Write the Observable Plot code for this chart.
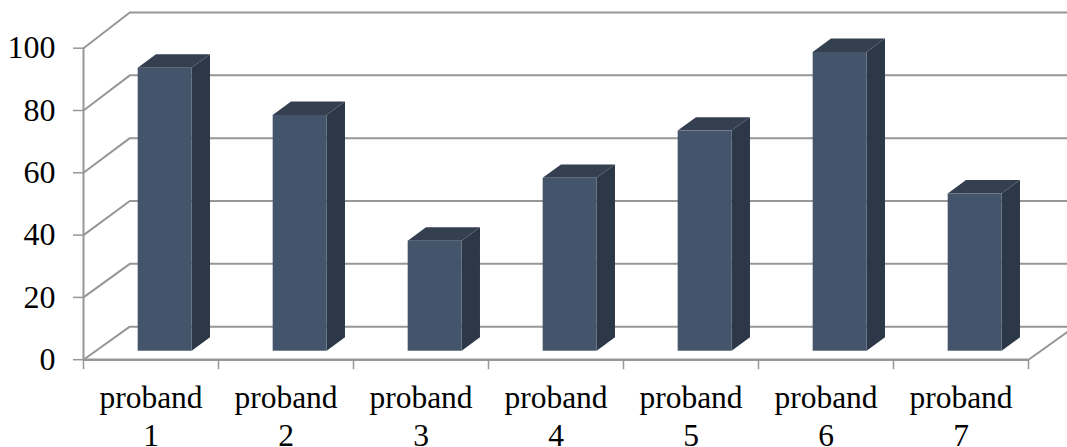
<!DOCTYPE html>
<html>
<head>
<meta charset="utf-8">
<script src="https://cdn.jsdelivr.net/npm/d3@7"></script>
<script src="https://cdn.jsdelivr.net/npm/@observablehq/plot@0.6"></script>
<style>
  html, body { margin: 0; padding: 0; background: #fff; overflow: hidden; }
  svg { display: block; font-family: "Liberation Serif", serif; }
</style>
</head>
<body>
<script>
// Survey scores per proband
const categories = ["proband\n1", "proband\n2", "proband\n3", "proband\n4", "proband\n5", "proband\n6", "proband\n7"];
const scores = [90, 75, 35, 55, 70, 95, 50];
const yTicks = [0, 20, 40, 60, 80, 100];

// Oblique projection of the chart box, in scale units
const wallShiftX = 0.343;
const wallLevel = (v) => v * 1.0086 + 10.6;
const barOffset = 0.405;
const barWidth = 0.4;
const barDepthX = 0.1356;
const barDepthY = 4.3;
const barBase = 2.73;
const barLevel = (v) => barBase + v * 1.0093;

const gridColor = "#979797";
const frontColor = "#44546a";
const sideColor = "#2c3847";
const topColor = "#343f50";
const textColor = "#000";
const n = categories.length;

// Side walls and back wall gridlines, drawn as polylines
const gridRows = yTicks.flatMap((v) => [
  {id: v, x: 0, y: v},
  {id: v, x: wallShiftX, y: wallLevel(v)},
  {id: v, x: n + wallShiftX, y: wallLevel(v)}
]);
const floorEdge = [
  {x: n, y: 0},
  {x: n + wallShiftX, y: wallLevel(0)}
];

// Each bar as three faces: front, right side and top
const bars = scores.map((v, i) => ({
  i,
  left: i + barOffset,
  right: i + barOffset + barWidth,
  low: barBase,
  high: barLevel(v)
}));
const sideFaces = bars.flatMap((b) => [
  {i: b.i, x: b.right, y1: b.low, y2: b.high},
  {i: b.i, x: b.right + barDepthX, y1: b.low + barDepthY, y2: b.high + barDepthY}
]);
const topFaces = bars.flatMap((b) => [
  {i: b.i, y: b.high, x1: b.left, x2: b.right},
  {i: b.i, y: b.high + barDepthY, x1: b.left + barDepthX, x2: b.right + barDepthX}
]);

const chart = Plot.plot({
  width: 1067,
  height: 447,
  marginLeft: 83,
  marginRight: 39,
  marginTop: 47.7,
  marginBottom: 87.8,
  x: {domain: [0, n]},
  y: {domain: [0, 100]},
  marks: [
    Plot.line(gridRows, {x: "x", y: "y", z: "id", stroke: gridColor, strokeWidth: 2}),
    Plot.line(floorEdge, {x: "x", y: "y", stroke: gridColor, strokeWidth: 2}),
    Plot.ruleX([0], {y1: 0, y2: 100, stroke: gridColor, strokeWidth: 2}),
    Plot.ruleY([0], {x1: 0, x2: n, stroke: gridColor, strokeWidth: 2.5}),
    Plot.area(sideFaces, {x1: "x", y1: "y1", y2: "y2", z: "i", fill: sideColor}),
    Plot.area(topFaces, {y1: "y", x1: "x1", x2: "x2", z: "i", fill: topColor}),
    Plot.rect(bars, {x1: "left", x2: "right", y1: "low", y2: "high", fill: frontColor}),
    Plot.axisY({
      ticks: yTicks, tickSize: 10, tickPadding: 18, fontSize: 32,
      stroke: gridColor, strokeWidth: 1.5, fill: textColor, label: null
    }),
    Plot.axisX({
      ticks: d3.range(n + 1), tickSize: 10, text: null,
      stroke: gridColor, strokeWidth: 1.5, label: null
    }),
    Plot.axisX({
      ticks: d3.range(n).map((i) => i + 0.5),
      tickSize: 0, tickPadding: 21.5, fontSize: 31.5, lineHeight: 1.2,
      tickFormat: (d) => categories[Math.floor(d)],
      fill: textColor, label: null
    })
  ]
});
document.body.append(chart);
</script>
</body>
</html>
